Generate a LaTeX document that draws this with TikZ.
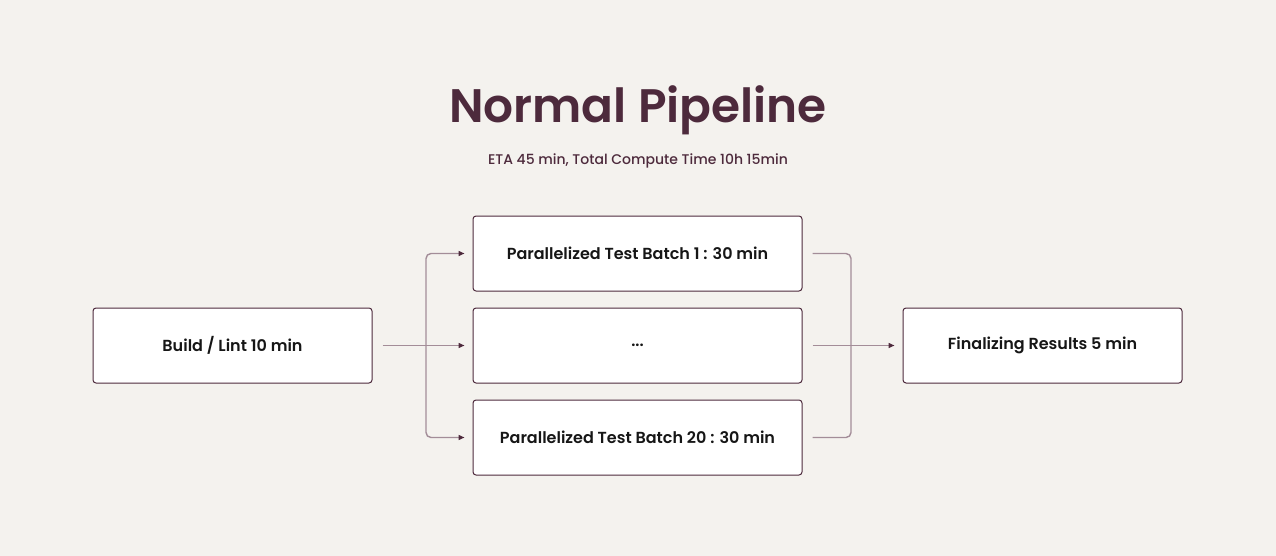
\documentclass[tikz,border=0pt]{standalone}
\usepackage{fontspec}
\setmainfont{Poppins}
\newfontfamily\titlefont{Poppins SemiBold}
\newfontfamily\medfont{Poppins Medium}
\usetikzlibrary{arrows.meta}
\definecolor{bg}{HTML}{F4F2EE}
\definecolor{plum}{HTML}{4D2A3C}
\definecolor{wire}{HTML}{A38D98}
\definecolor{ink}{HTML}{161616}
\tikzset{
  stage/.style={draw=plum, line width=1pt, fill=white, rounded corners=3pt,
    minimum height=75pt, inner sep=0pt, font=\titlefont\fontsize{16}{19}\selectfont, text=ink},
  wide/.style={stage, minimum width=329pt},
  narrow/.style={stage, minimum width=279pt},
  conn/.style={draw=wire, line width=1.4pt, rounded corners=5pt},
  tip/.style={-{Triangle[length=6pt,width=5pt,color=plum]}}
}
\begin{document}
\begin{tikzpicture}[x=1pt,y=-1pt]
\fill[bg] (0,0) rectangle (1276,556);
\useasboundingbox (0,0) rectangle (1276,556);
\node[text=plum, font=\titlefont\fontsize{47}{54}\selectfont] (title) at (638,110) {Normal Pipeline};
\node[text=plum, font=\medfont\fontsize{14}{17}\selectfont] (sub) at (638,161) {ETA 45 min, Total Compute Time 10h 15min};
\node[narrow] (build) at (232.5,345.5) {Build / Lint 10 min};
\node[wide] (t1) at (637.5,253.5) {Parallelized Test Batch 1 : 30 min};
\node[wide] (dots) at (637.5,345.5) {...};
\node[wide] (t20) at (637.5,437.5) {Parallelized Test Batch 20 : 30 min};
\node[narrow] (fin) at (1042.5,345.5) {Finalizing Results 5 min};
\coordinate (split) at (426,345.5);
\coordinate (join) at (851,345.5);
\draw[conn, tip, shorten <=10pt, shorten >=8pt] (build.east) -- (dots.west);
\draw[conn, tip, shorten >=8pt] (split) |- (t1.west);
\draw[conn, tip, shorten >=8pt] (split) |- (t20.west);
\draw[conn, shorten <=10pt] (t1.east) -| (join);
\draw[conn, shorten <=10pt] (t20.east) -| (join);
\draw[conn, tip, shorten <=10pt, shorten >=8pt] (dots.east) -- (fin.west);
\end{tikzpicture}
\end{document}
